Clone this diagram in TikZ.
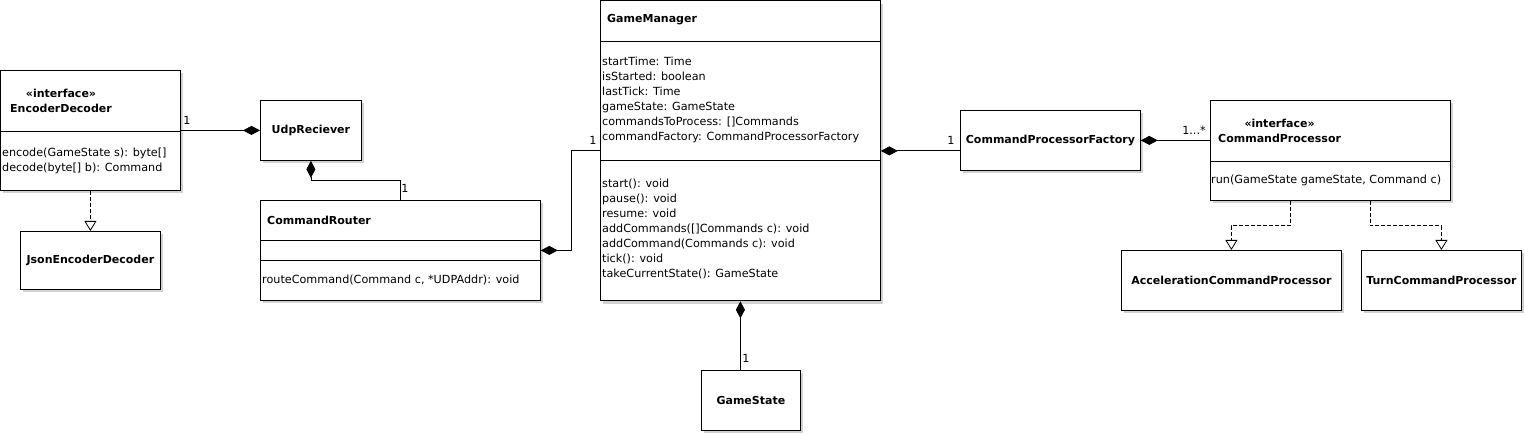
\documentclass[tikz,border=0pt]{standalone}
\usepackage{fontspec}
\setmainfont{DejaVu Sans}
\usetikzlibrary{arrows.meta,shadows}

\begin{document}
\begin{tikzpicture}[
        x=1pt, y=-1pt,
        every node/.style={inner sep=0pt, font=\fontsize{11.2}{15}\selectfont},
        box/.style n args={2}{draw, line width=0.8pt, fill=white, anchor=north west,
            minimum width=#1pt, minimum height=#2pt,
            drop shadow={shadow xshift=3pt, shadow yshift=-3pt, fill=black!18, opacity=1}},
        nm/.style={font=\fontsize{11}{15}\selectfont\bfseries},
        div/.style={line width=0.8pt},
        comp/.style={line width=0.8pt, {Diamond[length=17pt, width=9pt, fill=black]}-},
        real/.style={line width=0.8pt, dashed, dash pattern=on 4pt off 2pt, -{Triangle[open, length=10pt, width=12pt, fill=white]}},
    ]

    \useasboundingbox (0,0) rectangle (1525,435);

    % boxes
    \node[box={180}{120}](enc) at (0,70) {};
    \node[box={140}{58}](json) at (20,231) {};
    \node[box={101}{60}](udp) at (260,100) {};
    \node[box={280}{100}](cr) at (260,200) {};
    \node[box={280}{300}](gm) at (600,0.5) {};
    \node[box={180}{60}](cpf) at (960,110) {};
    \node[box={240}{100}](cp) at (1210,100) {};
    \node[box={220}{60}](acc) at (1121,250) {};
    \node[box={160}{60}](turn) at (1361,250) {};
    \node[box={99}{60}](gs) at (701,370) {};

    % compartments
    \draw[div] (enc.west |- 0,131) -- (enc.east |- 0,131);
    \draw[div] (cr.west |- 0,240) -- (cr.east |- 0,240);
    \draw[div] (cr.west |- 0,260) -- (cr.east |- 0,260);
    \draw[div] (gm.west |- 0,41) -- (gm.east |- 0,41);
    \draw[div] (gm.west |- 0,160) -- (gm.east |- 0,160);
    \draw[div] (cp.west |- 0,161) -- (cp.east |- 0,161);

    % texts
    \node[nm, align=center, anchor=west](enctitle) at (10,101) {«interface»\\EncoderDecoder};
    \node[align=left, anchor=west](encops) at (2,161) {encode(GameState s): byte[]\\decode(byte[] b): Command};
    \node[nm](jsontitle) at (json) {JsonEncoderDecoder};
    \node[nm](udptitle) at (udp) {UdpReciever};
    \node[nm, anchor=west](crtitle) at (267,220) {CommandRouter};
    \node[anchor=west](crops) at (262,280) {routeCommand(Command c, *UDPAddr): void};
    \node[nm, anchor=west](gmtitle) at (607,20) {GameManager};
    \node[align=left, anchor=west](gmattr) at (602,100) {startTime: Time\\isStarted: boolean\\lastTick: Time\\gameState: GameState\\commandsToProcess: []Commands\\commandFactory: CommandProcessorFactory};
    \node[align=left, anchor=west](gmops) at (602,229) {start(): void\\pause(): void\\resume: void\\addCommands([]Commands c): void\\addCommand(Commands c): void\\tick(): void\\takeCurrentState(): GameState};
    \node[nm](cpftitle) at (cpf) {CommandProcessorFactory};
    \node[nm, align=center, anchor=west](cptitle) at (1218,131) {«interface»\\CommandProcessor};
    \node[anchor=west](cpops) at (1211,180) {run(GameState gameState, Command c)};
    \node[nm](acctitle) at (acc) {AccelerationCommandProcessor};
    \node[nm](turntitle) at (turn) {TurnCommandProcessor};
    \node[nm](gstitle) at (gs) {GameState};

    % connectors
    \draw[comp] (udp.west) -- (udp.west -| enc.east);
    \draw[comp] (udp.south) |- (cr.north |- 0,180) -- (cr.north);
    \draw[comp] (cr.east) -| ([xshift=-29pt]gm.west) -- (gm.west);
    \draw[comp] (gm.east) -- (gm.east -| cpf.west);
    \draw[comp] (cpf.east) -- (cpf.east -| cp.west);
    \draw[comp] (gm.south) -- (gm.south |- gs.north);
    \draw[real] (enc.south) -- (json.north);
    \draw[real] ([xshift=-40pt]cp.south) -- ++(0,25) -| (acc.north);
    \draw[real] ([xshift=40pt]cp.south) -- ++(0,25) -| (turn.north);

    % multiplicities
    \node(m1) at (187,120) {1};
    \node(m2) at (405,188) {1};
    \node(m3) at (593,140) {1};
    \node(m4) at (951,140) {1};
    \node(m5) at (1194,130) {1...*};
    \node(m6) at (746,358) {1};
\end{tikzpicture}
\end{document}
